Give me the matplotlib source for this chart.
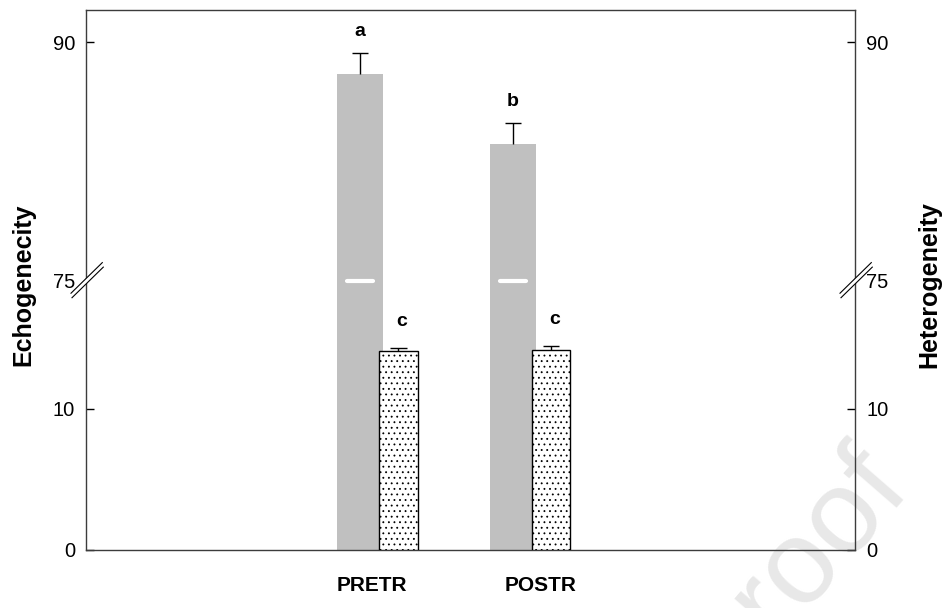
import numpy as np
import matplotlib
matplotlib.use("Agg")
import matplotlib.pyplot as plt
import matplotlib.transforms as mtransforms
from matplotlib.lines import Line2D
from matplotlib.patches import Polygon

plt.rcParams['font.family'] = ['Liberation Sans', 'DejaVu Sans']
plt.rcParams['hatch.linewidth'] = 0.6

# data
groups = ['PRETR', 'POSTR']
echo_mean = [88.0, 83.6]
echo_err = [1.3, 1.3]
hetero_mean = [14.12, 14.19]
hetero_err = [0.24, 0.31]
echo_letters = ['a', 'b']
hetero_letters = ['c', 'c']
yticks = [0, 10, 75, 90]

# broken y scale: 0..19.12 below the break, 75..92 above it
LO_TOP, HI_BOT = 19.12, 75.0
LO_K, HI_K, GAP_K = 14.07, 15.89, 1e-3
BRK = LO_TOP * LO_K
BRK2 = BRK + (HI_BOT - LO_TOP) * GAP_K


def fwd(y):
    y = np.asarray(y, float)
    return np.where(y <= LO_TOP, y * LO_K,
                    np.where(y < HI_BOT, BRK + (y - LO_TOP) * GAP_K,
                             BRK2 + (y - HI_BOT) * HI_K))


def inv(v):
    v = np.asarray(v, float)
    return np.where(v <= BRK, v / LO_K,
                    np.where(v < BRK2, LO_TOP + (v - BRK) / GAP_K,
                             HI_BOT + (v - BRK2) / HI_K))


fig = plt.figure(figsize=(9.44, 6.08), dpi=100)
ax = fig.add_axes([86 / 944, 1 - 549.7 / 608, 769 / 944, 539.7 / 608])
ax.patch.set_alpha(0)

# watermark behind the axes
fig.text(912 / 944, 1 - 490 / 608, 'Journal Pre-proof', fontsize=86,
         color='#e8e8e8', rotation=49, rotation_mode='anchor',
         ha='right', va='baseline', zorder=-5)

ax.set_yscale('function', functions=(fwd, inv))
ax.set_ylim(0, 92.03)
ax.set_xlim(-0.7975, 4.2418)

x = np.arange(1, len(groups) + 1)
gw, dw, doff = 0.301, 0.252, 0.250

ax.bar(x, echo_mean, width=gw, color='#c0c0c0', edgecolor='none', zorder=2)
ax.bar(x + doff, hetero_mean, width=dw, color='white', edgecolor='black',
       hatch='...', linewidth=1.0, zorder=3)

# white dash where the gray bars cross the break
for xi in x:
    ax.plot([xi - gw / 2 + 0.064, xi + gw / 2 - 0.064], [HI_BOT, HI_BOT],
            color='white', lw=3, solid_capstyle='round', zorder=4)

# upper error bars only
cap = 0.053
for xs, m, e in [(x, echo_mean, echo_err), (x + doff, hetero_mean, hetero_err)]:
    top = np.array(m) + np.array(e)
    ax.vlines(xs, m, top, color='black', lw=1.0, zorder=5)
    ax.hlines(top, xs - cap, xs + cap, color='black', lw=1.0, zorder=5)

for xi, m, e, t in zip(x, echo_mean, echo_err, echo_letters):
    ax.annotate(t, (xi, m + e), xytext=(0, 15.5), textcoords='offset points',
                ha='center', va='center', fontsize=14, fontweight='bold')
for xi, m, e, t in zip(x + doff, hetero_mean, hetero_err, hetero_letters):
    ax.annotate(t, (xi, m + e), xytext=(2.5, 19), textcoords='offset points',
                ha='center', va='center', fontsize=14, fontweight='bold')

ax.set_yticks(yticks)
ax.set_yticklabels([str(t) for t in yticks])
ax.tick_params(axis='y', direction='in', length=5.8, width=1.0, labelsize=14.5,
               pad=8, right=True, labelright=True, colors='black')
for tk in ax.yaxis.get_major_ticks():
    if tk.get_loc() == HI_BOT:
        tk.tick1line.set_visible(False)
        tk.tick2line.set_visible(False)

ax.set_xticks([1.078, 2.183])
ax.set_xticklabels(groups, fontsize=15, fontweight='bold')
ax.tick_params(axis='x', length=0, pad=19)

for sp in ax.spines.values():
    sp.set_color('#3c3c3c')
    sp.set_linewidth(1.0)

fig.text(23 / 944, 1 - 285 / 608, 'Echogenecity', rotation=90, fontsize=18,
         fontweight='bold', ha='center', va='center')
fig.text(929 / 944, 1 - 285 / 608, 'Heterogeneity', rotation=90, fontsize=18,
         fontweight='bold', ha='center', va='center')

# break marks on both spines, in pixel coordinates
ident = mtransforms.IdentityTransform()
yb = ax.transData.transform((0, HI_BOT))[1]
l1 = np.array([[-15.0, -12.6], [16.3, 18.0]])
l2 = np.array([[-14.0, -17.1], [17.3, 13.5]])
for xa in (0, 1):
    xs = ax.transAxes.transform((xa, 0))[0]
    base = np.array([xs, yb])
    a, b = l1 + base, l2 + base
    fig.add_artist(Polygon([a[0], a[1], b[1], b[0]], closed=True,
                           facecolor='white', edgecolor='none',
                           transform=ident, zorder=5))
    for seg in (a, b):
        fig.add_artist(Line2D(seg[:, 0], seg[:, 1], color='black', lw=0.8,
                              transform=ident, zorder=6))

fig.savefig('out.png', dpi=100)
